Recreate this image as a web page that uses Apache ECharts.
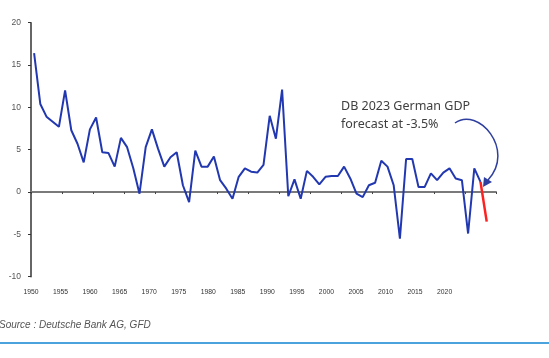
<!DOCTYPE html>
<html><head><meta charset="utf-8">
<script src="https://cdn.jsdelivr.net/npm/echarts@6/dist/echarts.min.js"></script>
<style>html,body{margin:0;padding:0;background:#fff}#c{width:549px;height:358px}</style>
</head><body><div id="c"></div>
<script>
const years = [];
for (let y = 1950; y <= 2024; y++) years.push(String(y));
const gdp = [16.4,10.4,8.9,8.3,7.7,12.0,7.3,5.7,3.5,7.4,
  8.8,4.7,4.6,3.0,6.4,5.3,2.8,-0.2,5.3,7.4,
  5.1,3.0,4.1,4.7,0.8,-1.2,4.9,3.0,3.0,4.2,
  1.4,0.4,-0.8,1.8,2.8,2.4,2.3,3.2,9.0,6.3,
  12.1,-0.5,1.5,-0.8,2.5,1.8,0.9,1.8,1.9,1.9,
  3.0,1.6,-0.2,-0.6,0.8,1.1,3.7,3.0,0.8,-5.5,
  3.9,3.9,0.6,0.6,2.2,1.4,2.3,2.8,1.6,1.4,
  -4.9,2.8,1.2,null,null];
const forecast = years.map(y => y === '2022' ? 1.2 : (y === '2023' ? -3.5 : null));
const yTicks = [-10, -5, 0, 5, 10, 15, 20];
const labelYears = [1950,1955,1960,1965,1970,1975,1980,1985,1990,1995,2000,2005,2010,2015,2020];
const noteLines = ['DB 2023 German GDP', 'forecast at -3.5%'];
const sourceText = 'Source : Deutsche Bank AG, GFD';

const chart = echarts.init(document.getElementById('c'), null, {renderer: 'canvas'});
chart.setOption({
  animation: false,
  backgroundColor: '#fff',
  grid: {left: 31, right: 53, top: 22.7, bottom: 81.3, containLabel: false},
  xAxis: [{
    type: 'category', data: years, boundaryGap: true, position: 'bottom',
    axisLine: {show: true, onZero: true, lineStyle: {color: '#7a7a7a', width: 2}},
    axisTick: {show: true, interval: 4, length: 2, lineStyle: {color: '#444', width: 1}},
    axisLabel: {show: false}, splitLine: {show: false}
  }, {
    type: 'value', position: 'bottom', min: 1950, max: 2028.7, interval: 5,
    axisLine: {show: false, onZero: false}, axisTick: {show: false}, splitLine: {show: false},
    axisLabel: {show: true, fontSize: 6.8, color: '#333', margin: 12, fontFamily: 'Liberation Sans',
      formatter: v => labelYears.indexOf(v) >= 0 ? String(v) : ''}
  }],
  yAxis: {
    type: 'value', min: yTicks[0], max: yTicks[yTicks.length - 1], interval: 5,
    axisLine: {show: true, lineStyle: {color: '#333', width: 1.5}},
    axisTick: {show: true, length: 3, lineStyle: {color: '#333'}},
    splitLine: {show: false},
    axisLabel: {fontSize: 8.5, color: '#555', margin: 10, fontFamily: 'Liberation Sans'}
  },
  series: [{
    type: 'line', data: gdp, symbol: 'none', xAxisIndex: 0,
    lineStyle: {color: '#2238b0', width: 2}, z: 3
  }, {
    type: 'line', data: forecast, symbol: 'none', xAxisIndex: 0,
    lineStyle: {color: '#ff2020', width: 2.5}, z: 4
  }],
  graphic: [
    {type: 'text', left: 341, top: 100, style: {text: noteLines[0], fontSize: 12.5, fill: '#404040', fontFamily: 'Noto Sans'}},
    {type: 'text', left: 341, top: 118, style: {text: noteLines[1], fontSize: 12.5, fill: '#404040', fontFamily: 'Noto Sans'}},
    {type: 'bezierCurve', shape: {x1: 455, y1: 123, cpx1: 478, cpy1: 106, cpx2: 516, cpy2: 150, x2: 488, y2: 180},
      style: {stroke: '#2f3f9f', lineWidth: 1.5, fill: null}},
    {type: 'polygon', shape: {points: [[483, 187], [484, 177], [492, 182]]}, style: {fill: '#2f3f9f'}},
    {type: 'text', left: -1, top: 320, style: {text: sourceText, fontSize: 10, fontStyle: 'italic', fill: '#555', fontFamily: 'Liberation Sans'}},
    {type: 'line', shape: {x1: 0, y1: 343, x2: 549, y2: 343}, style: {stroke: '#4aa3dc', lineWidth: 2}}
  ]
});
</script></body></html>
